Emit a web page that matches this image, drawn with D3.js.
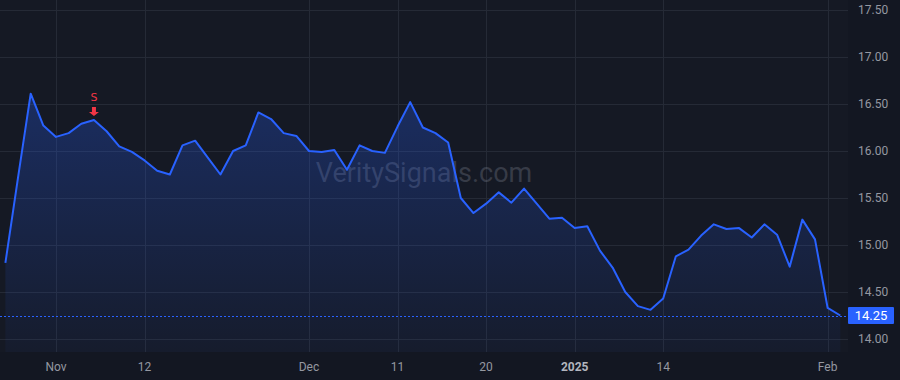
<!DOCTYPE html>
<html>
<head>
<meta charset="utf-8">
<script src="https://cdn.jsdelivr.net/npm/d3@7"></script>
<style>
  html, body { margin: 0; padding: 0; background: #131722; }
  svg { display: block; }
</style>
</head>
<body>
<svg id="chart" width="900" height="380"></svg>
<script>
const dates = ["2024-10-28","2024-10-29","2024-10-30","2024-10-31","2024-11-01","2024-11-04","2024-11-05","2024-11-06","2024-11-07","2024-11-08",
  "2024-11-11","2024-11-12","2024-11-13","2024-11-14","2024-11-15","2024-11-18","2024-11-19","2024-11-20","2024-11-21","2024-11-22",
  "2024-11-25","2024-11-26","2024-11-27","2024-11-29","2024-12-02","2024-12-03","2024-12-04","2024-12-05","2024-12-06","2024-12-09",
  "2024-12-10","2024-12-11","2024-12-12","2024-12-13","2024-12-16","2024-12-17","2024-12-18","2024-12-19","2024-12-20","2024-12-23",
  "2024-12-24","2024-12-26","2024-12-27","2024-12-30","2024-12-31","2025-01-02","2025-01-03","2025-01-06","2025-01-07","2025-01-08",
  "2025-01-10","2025-01-13","2025-01-14","2025-01-15","2025-01-16","2025-01-17","2025-01-21","2025-01-22","2025-01-23","2025-01-24",
  "2025-01-27","2025-01-28","2025-01-29","2025-01-30","2025-01-31","2025-02-03","2025-02-04"];
const closes = [14.81,15.72,16.61,16.27,16.15,16.19,16.29,16.33,16.21,16.05,
  15.99,15.90,15.79,15.75,16.06,16.11,15.93,15.75,16.00,16.06,
  16.41,16.34,16.19,16.16,16.00,15.99,16.01,15.80,16.06,16.00,
  15.98,16.26,16.52,16.25,16.19,16.09,15.50,15.34,15.44,15.56,
  15.45,15.60,15.44,15.28,15.29,15.18,15.20,14.94,14.76,14.50,
  14.35,14.31,14.43,14.88,14.95,15.10,15.22,15.17,15.18,15.08,
  15.22,15.11,14.77,15.27,15.06,14.33,14.25];
const yTicks = [14.00,14.50,15.00,15.50,16.00,16.50,17.00,17.50];
const xTickDates = ["2024-11-01","2024-11-12","2024-12-02","2024-12-11","2024-12-20","2025-01-02","2025-01-14","2025-02-03"];
const xTickLabels = ["Nov","12","Dec","11","20","2025","14","Feb"];
const signalDates = ["2024-11-06"];
const signalLabels = ["S"];
const lastPrice = 14.25;
const watermark = "VeritySignals.com";

const W = 900, H = 380;
const plotRight = 848, plotBottom = 352;
const svg = d3.select("#chart");

const x = d3.scaleLinear().domain([0, dates.length - 1]).range([5.4, 5.4 + (dates.length - 1) * 12.65]);
const y = d3.scaleLinear().domain([14, 17.5]).range([339, 10]);
const idx = d => dates.indexOf(d);

svg.append("rect").attr("width", W).attr("height", H).attr("fill", "#131722");
svg.append("rect").attr("width", plotRight).attr("height", plotBottom).attr("fill", "#151924");

// grid
const grid = svg.append("g");
grid.selectAll("line.h").data(yTicks).join("line")
  .attr("x1", 0).attr("x2", plotRight)
  .attr("y1", d => Math.round(y(d)) + 0.5).attr("y2", d => Math.round(y(d)) + 0.5)
  .attr("stroke", "#252a36").attr("stroke-width", 1);
grid.selectAll("line.v").data(xTickDates).join("line")
  .attr("y1", 0).attr("y2", plotBottom)
  .attr("x1", d => Math.round(x(idx(d))) + 0.5).attr("x2", d => Math.round(x(idx(d))) + 0.5)
  .attr("stroke", "#252a36").attr("stroke-width", 1);

// watermark
svg.append("text").attr("x", 424).attr("y", 182).attr("text-anchor", "middle")
  .attr("font-family", "Roboto, 'Noto Sans', sans-serif").attr("font-size", 27)
  .attr("fill", "rgba(120,125,140,0.35)").text(watermark);

// area gradient
const defs = svg.append("defs");
const grad = defs.append("linearGradient").attr("id", "ag")
  .attr("gradientUnits", "userSpaceOnUse")
  .attr("x1", 0).attr("x2", 0)
  .attr("y1", y(d3.max(closes))).attr("y2", plotBottom);
grad.append("stop").attr("offset", 0).attr("stop-color", "#2962ff").attr("stop-opacity", 0.28);
grad.append("stop").attr("offset", 1).attr("stop-color", "#2962ff").attr("stop-opacity", 0.04);

const area = d3.area().x((d, i) => x(i)).y0(plotBottom).y1(d => y(d));
svg.append("path").datum(closes).attr("d", area).attr("fill", "url(#ag)");
const line = d3.line().x((d, i) => x(i)).y(d => y(d));
svg.append("path").datum(closes).attr("d", line).attr("fill", "none")
  .attr("stroke", "#2962ff").attr("stroke-width", 2).attr("stroke-linejoin", "round");

// last price dashed line
svg.append("line").attr("x1", 0).attr("x2", plotRight)
  .attr("y1", Math.round(y(lastPrice)) + 0.5).attr("y2", Math.round(y(lastPrice)) + 0.5)
  .attr("stroke", "#2962ff").attr("stroke-width", 1).attr("stroke-dasharray", "2,2");

// signals
signalDates.forEach((d, k) => {
  const i = idx(d);
  const cx = x(i), py = y(closes[i]);
  const g = svg.append("g").attr("fill", "#f23645");
  g.append("text").attr("x", cx).attr("y", py - 19).attr("text-anchor", "middle")
    .attr("font-family", "'DejaVu Sans', sans-serif").attr("font-size", 11).text(signalLabels[k]);
  const top = py - 13, bot = py - 4;
  g.append("path").attr("d", `M${cx-2},${top} L${cx+2},${top} L${cx+2},${bot-4} L${cx+5},${bot-4} L${cx},${bot} L${cx-5},${bot-4} L${cx-2},${bot-4} Z`);
});

// right axis
const yAxis = svg.append("g");
yAxis.selectAll("text").data(yTicks).join("text")
  .attr("x", 858).attr("y", d => y(d) + 4)
  .attr("font-family", "Roboto, 'Noto Sans', sans-serif").attr("font-size", 12)
  .attr("fill", "#9598a1").text(d => d3.format(".2f")(d));

// last price label
svg.append("rect").attr("x", 848).attr("y", y(lastPrice) - 8.5).attr("width", 46).attr("height", 17)
  .attr("rx", 1).attr("fill", "#2962ff");
svg.append("text").attr("x", 871).attr("y", y(lastPrice) + 4.5).attr("text-anchor", "middle")
  .attr("font-family", "Roboto, 'Noto Sans', sans-serif").attr("font-size", 13)
  .attr("fill", "#ffffff").text(d3.format(".2f")(lastPrice));

// bottom axis
svg.append("g").selectAll("text").data(xTickDates).join("text")
  .attr("x", d => x(idx(d))).attr("y", 371).attr("text-anchor", "middle")
  .attr("font-family", "Roboto, 'Noto Sans', sans-serif").attr("font-size", 12)
  .attr("font-weight", (d, i) => xTickLabels[i] === "2025" ? "bold" : "normal")
  .attr("fill", (d, i) => xTickLabels[i] === "2025" ? "#b2b5be" : "#9598a1")
  .text((d, i) => xTickLabels[i]);
</script>
</body>
</html>
